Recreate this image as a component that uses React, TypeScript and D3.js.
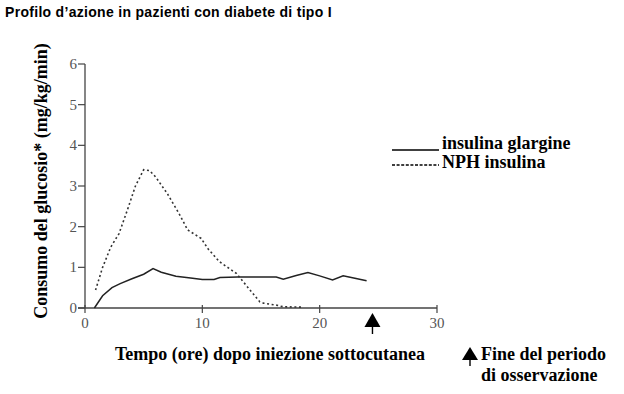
import React from "react";
import * as d3 from "d3";

const title = "Profilo d’azione in pazienti con diabete di tipo I";
const yLabel = "Consumo del glucosio* (mg/kg/min)";
const xLabel = "Tempo (ore) dopo iniezione sottocutanea";
const seriesNames = ["insulina glargine", "NPH insulina"];
const arrowNote = ["Fine del periodo", "di osservazione"];
const xTicks = [0, 10, 20, 30];
const yTicks = [0, 1, 2, 3, 4, 5, 6];
const endOfObservation = 24.5;

const glargineX = [0.8, 1.5, 2.3, 3, 4, 5, 5.8, 6.5, 7.75, 9, 10, 11, 11.5, 13, 14, 15, 16.3, 16.9, 18, 19, 20, 21.1, 22, 23, 24];
const glargineY = [0, 0.3, 0.5, 0.6, 0.72, 0.83, 0.97, 0.88, 0.78, 0.74, 0.7, 0.7, 0.75, 0.76, 0.76, 0.76, 0.76, 0.71, 0.8, 0.87, 0.79, 0.69, 0.79, 0.73, 0.67];

const nphX = [0.9, 1.5, 2.2, 2.9, 3.6, 4.3, 5.0, 5.5, 6.0, 7.0, 8.0, 8.75, 9.9, 10.5, 11.45, 12.9, 14.3, 14.9, 15.2, 16.3, 16.9, 18.6];
const nphY = [0.44, 1.0, 1.5, 1.83, 2.4, 3.0, 3.4, 3.38, 3.23, 2.82, 2.33, 1.92, 1.71, 1.45, 1.14, 0.85, 0.36, 0.15, 0.12, 0.07, 0.03, 0.02];

export default function App() {
  const W = 624, H = 394;
  const x = d3.scaleLinear().domain([0, 30]).range([85, 437]);
  const y = d3.scaleLinear().domain([0, 6]).range([308, 64]);
  const line = d3.line<[number, number]>().x(d => x(d[0])).y(d => y(d[1]));
  const gl = glargineX.map((v, i) => [v, glargineY[i]] as [number, number]);
  const np = nphX.map((v, i) => [v, nphY[i]] as [number, number]);
  const serif = "'Liberation Serif', 'Times New Roman', serif";
  const axisColor = "#444";
  const ax = x(endOfObservation);
  const big = 18;
  return (
    <svg width={W} height={H} style={{ position: "absolute", left: 0, top: 0, background: "#fff" }}>
      <text x={5} y={17} fontFamily="'Liberation Sans', Arial, sans-serif" fontSize={14} letterSpacing={0.3} fontWeight="bold" fill="#000">{title}</text>
      {/* y axis */}
      <line x1={x(0)} x2={x(0)} y1={y(6)} y2={y(0)} stroke={axisColor} strokeWidth={1.3} />
      {yTicks.map(t => (
        <g key={"y" + t}>
          <line x1={x(0) - 7} x2={x(0)} y1={y(t)} y2={y(t)} stroke={axisColor} strokeWidth={1.2} />
          <text x={x(0) - 8} y={y(t) + 5} textAnchor="end" fontFamily={serif} fontSize={15} fill="#555">{t}</text>
        </g>
      ))}
      {/* x axis */}
      <line x1={x(0) - 7} x2={x(30)} y1={y(0)} y2={y(0)} stroke={axisColor} strokeWidth={1.3} />
      {xTicks.map(t => (
        <g key={"x" + t}>
          <line x1={x(t)} x2={x(t)} y1={y(0) - 3} y2={y(0) + 5} stroke={axisColor} strokeWidth={1.2} />
          <text x={x(t)} y={y(0) + 20} textAnchor="middle" fontFamily={serif} fontSize={15} fill="#555">{t}</text>
        </g>
      ))}
      {/* lines */}
      <path d={line(gl) || ""} fill="none" stroke="#222" strokeWidth={1.5} />
      <path d={line(np) || ""} fill="none" stroke="#333" strokeWidth={1.6} strokeDasharray="2 2.6" />
      {/* end of observation arrow */}
      <path d={`M${ax},${y(0) + 5} L${ax + 8},${y(0) + 19} L${ax - 8},${y(0) + 19} Z`} fill="#000" />
      <line x1={ax} x2={ax} y1={y(0) + 18} y2={y(0) + 26} stroke="#000" strokeWidth={1.4} />
      {/* y label */}
      <text transform={`translate(47,181) rotate(-90)`} textAnchor="middle" fontFamily={serif} fontSize={big} fontWeight="bold" fill="#000">{yLabel}</text>
      {/* x label */}
      <text x={270} y={360} textAnchor="middle" fontFamily={serif} fontSize={big} fontWeight="bold" fill="#000">{xLabel}</text>
      {/* arrow legend */}
      <path d="M470,347 L478,360 L462,360 Z" fill="#000" />
      <line x1={470} x2={470} y1={359} y2={366} stroke="#000" strokeWidth={1.4} />
      <text x={481} y={360} fontFamily={serif} fontSize={big} fontWeight="bold" fill="#000">{arrowNote[0]}</text>
      <text x={481} y={381} fontFamily={serif} fontSize={big} fontWeight="bold" fill="#000">{arrowNote[1]}</text>
      {/* legend */}
      <line x1={392} x2={439} y1={150} y2={150} stroke="#000" strokeWidth={1.3} />
      <text x={442} y={149} fontFamily={serif} fontSize={big} fontWeight="bold" fill="#000">{seriesNames[0]}</text>
      <line x1={392} x2={439} y1={165} y2={165} stroke="#000" strokeWidth={1.3} strokeDasharray="3 1.6" />
      <text x={442} y={168} fontFamily={serif} fontSize={big} fontWeight="bold" fill="#000">{seriesNames[1]}</text>
    </svg>
  );
}
